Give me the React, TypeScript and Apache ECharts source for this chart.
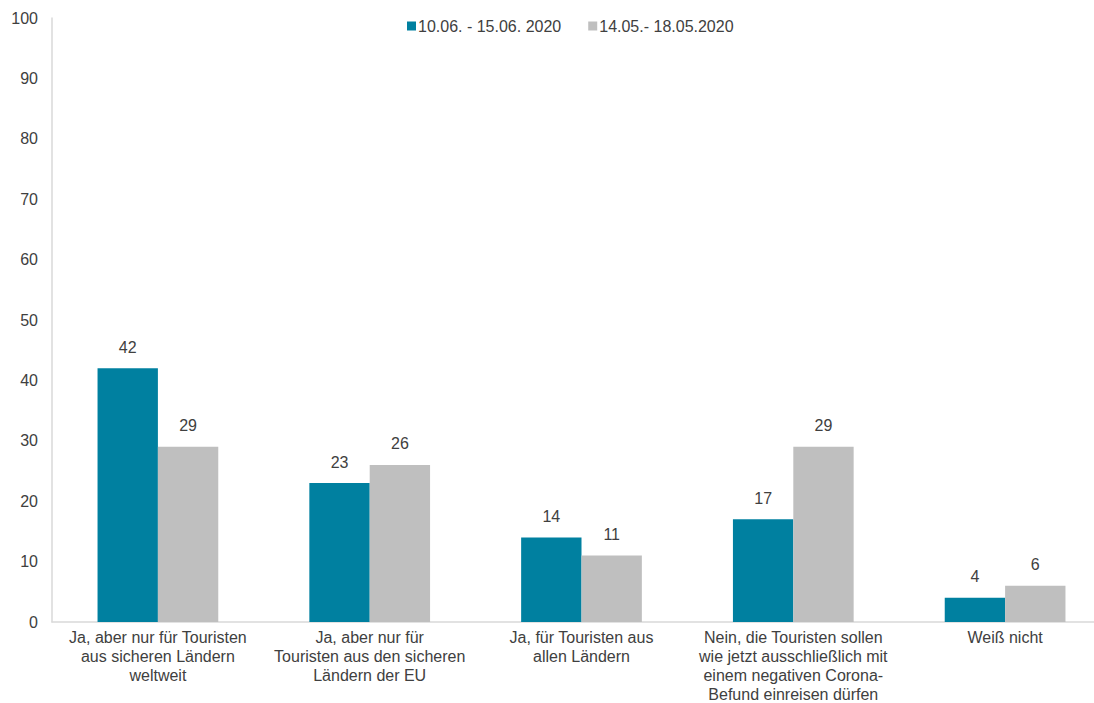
import React, { useEffect, useRef } from "react";
import * as echarts from "echarts";

const categories = [
  "Ja, aber nur für Touristen\naus sicheren Ländern\nweltweit",
  "Ja, aber nur für\nTouristen aus den sicheren\nLändern der EU",
  "Ja, für Touristen aus\nallen Ländern",
  "Nein, die Touristen sollen\nwie jetzt ausschließlich mit\neinem negativen Corona-\nBefund einreisen dürfen",
  "Weiß nicht",
];
const seriesJune = [42, 23, 14, 17, 4];
const seriesMay = [29, 26, 11, 29, 6];
const seriesNames = ["10.06. - 15.06. 2020", "14.05.- 18.05.2020"];

export default function App() {
  const ref = useRef<HTMLDivElement>(null);
  useEffect(() => {
    document.body.style.margin = "0";
    const chart = echarts.init(ref.current!, null, { renderer: "svg" });
    const font = "'Liberation Sans', Arial, sans-serif";
    const txt = "#404040";
    const label = {
      show: true,
      position: "top" as const,
      distance: 13,
      color: txt,
      fontSize: 16,
      fontFamily: font,
    };
    chart.setOption({
      animation: false,
      textStyle: { fontFamily: font },
      legend: {
        top: 13,
        left: 402,
        itemWidth: 9,
        itemHeight: 9,
        itemGap: 27,
        icon: "rect",
        textStyle: { color: txt, fontSize: 16, fontFamily: font, padding: [0, 0, 0, -3] },
        data: seriesNames,
      },
      grid: {
        left: 52,
        top: 18,
        width: 1059,
        height: 604,
        containLabel: false,
        outerBoundsMode: "none",
      },
      xAxis: {
        type: "category",
        data: categories,
        axisLine: { lineStyle: { color: "#d9d9d9", width: 1.5 } },
        axisTick: { show: false },
        axisLabel: {
          color: txt,
          fontSize: 16,
          fontFamily: font,
          lineHeight: 19,
          margin: 6,
          interval: 0,
        },
      },
      yAxis: {
        type: "value",
        min: 0,
        max: 100,
        interval: 10,
        axisLine: { show: true, lineStyle: { color: "#d9d9d9", width: 1.5 } },
        axisTick: { show: false },
        splitLine: { show: false },
        axisLabel: { color: txt, fontSize: 16, fontFamily: font, margin: 14 },
      },
      series: [
        {
          name: seriesNames[0],
          type: "bar",
          data: seriesJune,
          barGap: "0%",
          barCategoryGap: "43%",
          itemStyle: { color: "#0080a0" },
          label,
        },
        {
          name: seriesNames[1],
          type: "bar",
          data: seriesMay,
          itemStyle: { color: "#bfbfbf" },
          label,
        },
      ],
    });
    return () => chart.dispose();
  }, []);
  return <div ref={ref} style={{ width: 1094, height: 703 }} />;
}
